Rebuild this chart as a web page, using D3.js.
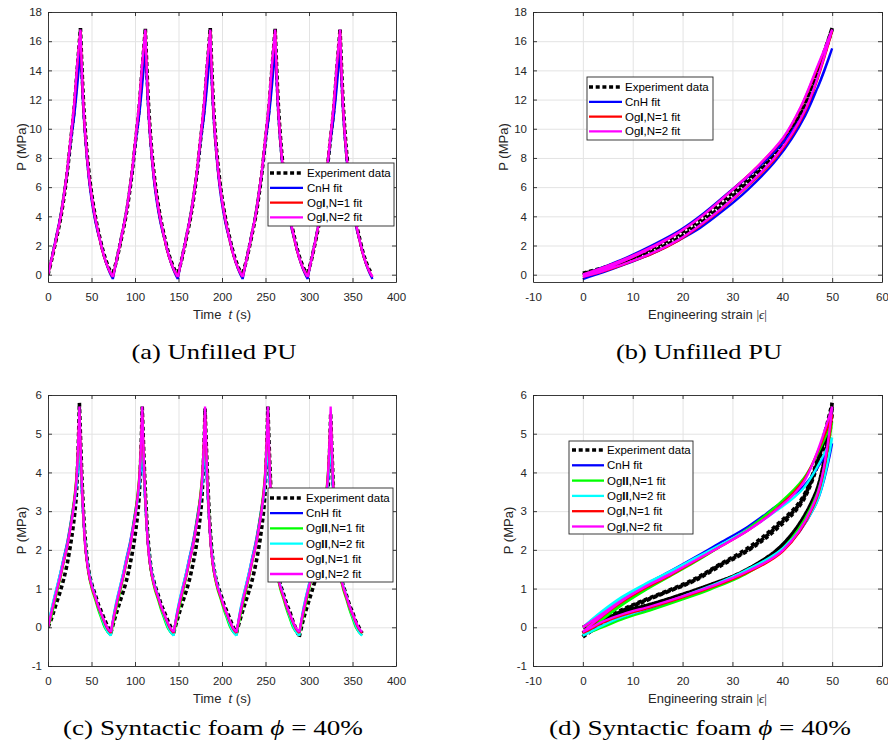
<!DOCTYPE html>
<html><head><meta charset="utf-8">
<script src="https://cdn.jsdelivr.net/npm/d3@7"></script>
<style>
body{margin:0;background:#fff;}
svg text{font-family:"Liberation Sans",Arial,Helvetica,sans-serif;}
</style></head><body>
<svg id="chart" width="888" height="753"></svg>
<script>
// ---------------- DATA ----------------
// Tick labels
const xTicksTime = [0,50,100,150,200,250,300,350,400];
const xTicksStrain = [-10,0,10,20,30,40,50,60];
const yTicksPU = [0,2,4,6,8,10,12,14,16,18];
const yTicksFoam = [-1,0,1,2,3,4,5,6];

// Series names
const namesPU = ["Experiment data","CnH fit","OgI,N=1 fit","OgI,N=2 fit"];
const namesFoam = ["Experiment data","CnH fit","OgII,N=1 fit","OgII,N=2 fit","OgI,N=1 fit","OgI,N=2 fit"];

// Unfilled PU : time (s) and engineering strain at each sample
const timePU = [0,3.7,7.5,11.2,14.9,18.7,22.4,26.1,29.8,33.6,37.3,41.0,44.8,48.5,52.2,56.0,59.7,63.4,67.1,70.9,
74.6,78.3,82.1,85.8,89.5,93.3,97.0,100.7,104.4,108.2,111.9,115.6,119.4,123.1,126.8,130.6,134.3,138.0,141.7,145.5,
149.2,152.9,156.7,160.4,164.1,167.9,171.6,175.3,179.0,182.8,186.5,190.2,194.0,197.7,201.4,205.2,208.9,212.6,216.3,220.1,
223.8,227.5,231.3,235.0,238.7,242.5,246.2,249.9,253.6,257.4,261.1,264.8,268.6,272.3,276.0,279.8,283.5,287.2,290.9,294.7,
298.4,302.1,305.9,309.6,313.3,317.1,320.8,324.5,328.2,332.0,335.7,339.4,343.2,346.9,350.6,354.4,358.1,361.8,365.5,369.3,373.0];
const strainPU = [0,7.6,14.1,19.7,24.2,29.3,34.7,40.2,43.7,47.2,50,44.6,38.9,33.0,28.0,23.5,19.2,14.0,8.8,4.0,
0,7.6,14.1,19.7,24.2,29.3,34.7,40.2,43.7,47.2,50,44.6,38.9,33.0,28.0,23.5,19.2,14.0,8.8,4.0,
0,7.6,14.1,19.7,24.2,29.3,34.7,40.2,43.7,47.2,50,44.6,38.9,33.0,28.0,23.5,19.2,14.0,8.8,4.0,
0,7.6,14.1,19.7,24.2,29.3,34.7,40.2,43.7,47.2,50,44.6,38.9,33.0,28.0,23.5,19.2,14.0,8.8,4.0,
0,7.6,14.1,19.7,24.2,29.3,34.7,40.2,43.7,47.2,50,44.6,38.9,33.0,28.0,23.5,19.2,14.0,8.8,4.0,0];
// Unfilled PU : P (MPa)
const expPU = [0,0.9,1.9,2.9,4.0,5.45,7.15,9.2,11.2,14.1,16.9,11.6,8.4,6.3,4.75,3.5,2.5,1.6,0.9,0.35,
0.1,0.85,1.85,2.9,4.0,5.45,7.15,9.2,11.2,14.1,16.85,11.6,8.4,6.3,4.75,3.5,2.5,1.6,0.9,0.35,
0.1,0.85,1.85,2.9,4.0,5.45,7.15,9.2,11.2,14.1,16.9,11.6,8.4,6.3,4.75,3.5,2.5,1.6,0.9,0.35,
0.1,0.85,1.85,2.9,4.0,5.45,7.15,9.2,11.2,14.1,16.85,11.6,8.4,6.3,4.75,3.5,2.5,1.6,0.9,0.35,
0.1,0.85,1.85,2.9,4.0,5.45,7.15,9.2,11.2,14.1,16.8,11.6,8.4,6.3,4.75,3.5,2.5,1.6,0.9,0.35,0.1];
const cnhPU = [0,1.0,2.05,3.1,4.2,5.65,7.25,9.1,10.7,12.9,15.5,10.9,7.9,5.8,4.35,3.2,2.35,1.45,0.75,0.15,
-0.3,0.85,1.95,3.05,4.15,5.6,7.2,9.1,10.7,12.9,15.5,10.9,7.9,5.8,4.35,3.2,2.35,1.45,0.75,0.15,
-0.3,0.85,1.95,3.05,4.15,5.6,7.2,9.1,10.7,12.9,15.5,10.9,7.9,5.8,4.35,3.2,2.35,1.45,0.75,0.15,
-0.3,0.85,1.95,3.05,4.15,5.6,7.2,9.1,10.7,12.9,15.5,10.9,7.9,5.8,4.35,3.2,2.35,1.45,0.75,0.15,
-0.3,0.85,1.95,3.05,4.15,5.6,7.2,9.1,10.7,12.9,15.5,10.9,7.9,5.8,4.35,3.2,2.35,1.45,0.75,0.15,-0.3];
const og1n1PU = [0,0.95,1.95,3.0,4.1,5.6,7.3,9.35,11.45,14.3,16.7,11.2,8.1,6.05,4.55,3.35,2.35,1.45,0.78,0.22,
-0.15,0.85,1.9,3.0,4.1,5.6,7.3,9.35,11.45,14.3,16.7,11.2,8.1,6.05,4.55,3.35,2.35,1.45,0.78,0.22,
-0.15,0.85,1.9,3.0,4.1,5.6,7.3,9.35,11.45,14.3,16.7,11.2,8.1,6.05,4.55,3.35,2.35,1.45,0.78,0.22,
-0.15,0.85,1.9,3.0,4.1,5.6,7.3,9.35,11.45,14.3,16.7,11.2,8.1,6.05,4.55,3.35,2.35,1.45,0.78,0.22,
-0.15,0.85,1.9,3.0,4.1,5.6,7.3,9.35,11.45,14.3,16.7,11.2,8.1,6.05,4.55,3.35,2.35,1.45,0.78,0.22,-0.15];
const og1n2PU = [0,0.95,1.95,3.0,4.1,5.6,7.3,9.4,11.5,14.4,16.8,11.3,8.2,6.1,4.6,3.4,2.4,1.5,0.8,0.25,
-0.15,0.85,1.9,3.0,4.1,5.6,7.3,9.4,11.5,14.4,16.8,11.3,8.2,6.1,4.6,3.4,2.4,1.5,0.8,0.25,
-0.15,0.85,1.9,3.0,4.1,5.6,7.3,9.4,11.5,14.4,16.8,11.3,8.2,6.1,4.6,3.4,2.4,1.5,0.8,0.25,
-0.15,0.85,1.9,3.0,4.1,5.6,7.3,9.4,11.5,14.4,16.8,11.3,8.2,6.1,4.6,3.4,2.4,1.5,0.8,0.25,
-0.15,0.85,1.9,3.0,4.1,5.6,7.3,9.4,11.5,14.4,16.8,11.3,8.2,6.1,4.6,3.4,2.4,1.5,0.8,0.25,-0.15];

// Syntactic foam phi = 40% : time (s) and strain
const timeFoam = [0,3.6,7.2,10.8,14.4,18.1,21.7,25.3,28.9,32.5,36.1,39.7,43.3,46.9,50.5,54.2,57.8,61.4,65.0,68.6,
72.2,75.8,79.4,83.0,86.6,90.3,93.9,97.5,101.1,104.7,108.3,111.9,115.5,119.1,122.7,126.4,130.0,133.6,137.2,140.8,
144.4,148.0,151.6,155.2,158.8,162.5,166.1,169.7,173.3,176.9,180.5,184.1,187.7,191.3,194.9,198.6,202.2,205.8,209.4,213.0,
216.6,220.2,223.8,227.4,231.0,234.7,238.3,241.9,245.5,249.1,252.7,256.3,259.9,263.5,267.1,270.8,274.4,278.0,281.6,285.2,
288.8,292.4,296.0,299.6,303.2,306.9,310.5,314.1,317.7,321.3,324.9,328.5,332.1,335.7,339.3,343.0,346.6,350.2,353.8,357.4,361.0];
const strainFoam = [0,3.9,7.8,12.2,17.1,22.4,27.1,33.1,38.5,44.3,50,46.8,40.2,32.3,25.6,20,13.8,8.2,4.0,1.5,
0,3.9,7.8,12.2,17.1,22.4,27.1,33.1,38.5,44.3,50,46.8,40.2,32.3,25.6,20,13.8,8.2,4.0,1.5,
0,3.9,7.8,12.2,17.1,22.4,27.1,33.1,38.5,44.3,50,46.8,40.2,32.3,25.6,20,13.8,8.2,4.0,1.5,
0,3.9,7.8,12.2,17.1,22.4,27.1,33.1,38.5,44.3,50,46.8,40.2,32.3,25.6,20,13.8,8.2,4.0,1.5,
0,3.9,7.8,12.2,17.1,22.4,27.1,33.1,38.5,44.3,50,46.8,40.2,32.3,25.6,20,13.8,8.2,4.0,1.5,0];
// Syntactic foam : P (MPa)
const expFoam = [0,0.2,0.45,0.7,0.95,1.25,1.6,2.05,2.6,3.4,5.8,3.5,2.15,1.45,1.1,0.85,0.6,0.4,0.2,0.02,
-0.15,0.15,0.42,0.68,0.93,1.22,1.58,2.0,2.55,3.35,5.7,3.5,2.15,1.45,1.1,0.85,0.6,0.4,0.2,0.02,
-0.15,0.15,0.42,0.68,0.93,1.22,1.58,2.0,2.55,3.35,5.65,3.5,2.15,1.45,1.1,0.85,0.6,0.4,0.2,0.0,
-0.15,0.15,0.42,0.68,0.93,1.22,1.58,2.0,2.55,3.35,5.7,3.5,2.15,1.45,1.1,0.85,0.6,0.4,0.15,-0.05,
-0.25,0.1,0.4,0.66,0.92,1.2,1.55,1.98,2.5,3.3,5.5,3.4,2.1,1.42,1.08,0.83,0.58,0.38,0.15,0.0,-0.15];
const cnhFoam = [0,0.4,0.75,1.08,1.42,1.8,2.15,2.6,3.1,3.65,4.75,3.2,2.0,1.4,1.05,0.78,0.5,0.27,0.04,-0.12,
-0.2,0.32,0.72,1.06,1.41,1.8,2.15,2.6,3.1,3.65,4.75,3.2,2.0,1.4,1.05,0.78,0.5,0.27,0.04,-0.12,
-0.2,0.32,0.72,1.06,1.41,1.8,2.15,2.6,3.1,3.65,4.75,3.2,2.0,1.4,1.05,0.78,0.5,0.27,0.04,-0.12,
-0.2,0.32,0.72,1.06,1.41,1.8,2.15,2.6,3.1,3.65,4.75,3.2,2.0,1.4,1.05,0.78,0.5,0.27,0.04,-0.12,
-0.2,0.32,0.72,1.06,1.41,1.8,2.15,2.6,3.1,3.65,4.75,3.2,2.0,1.4,1.05,0.78,0.5,0.27,0.04,-0.12,-0.2];
const og2n1Foam = [0,0.25,0.6,0.95,1.3,1.68,2.05,2.55,3.1,3.85,5.3,3.4,2.05,1.35,0.98,0.72,0.45,0.22,0.0,-0.12,
-0.2,0.2,0.57,0.93,1.29,1.68,2.05,2.55,3.1,3.85,5.3,3.4,2.05,1.35,0.98,0.72,0.45,0.22,0.0,-0.12,
-0.2,0.2,0.57,0.93,1.29,1.68,2.05,2.55,3.1,3.85,5.3,3.4,2.05,1.35,0.98,0.72,0.45,0.22,0.0,-0.12,
-0.2,0.2,0.57,0.93,1.29,1.68,2.05,2.55,3.1,3.85,5.3,3.4,2.05,1.35,0.98,0.72,0.45,0.22,0.0,-0.12,
-0.2,0.2,0.57,0.93,1.29,1.68,2.05,2.55,3.1,3.85,5.3,3.4,2.05,1.35,0.98,0.72,0.45,0.22,0.0,-0.12,-0.2];
const og2n2Foam = [0,0.42,0.78,1.1,1.42,1.78,2.1,2.52,2.98,3.6,4.9,3.2,2.05,1.45,1.07,0.8,0.52,0.28,0.05,-0.12,
-0.22,0.35,0.75,1.08,1.41,1.78,2.1,2.52,2.98,3.6,4.9,3.2,2.05,1.45,1.07,0.8,0.52,0.28,0.05,-0.12,
-0.22,0.35,0.75,1.08,1.41,1.78,2.1,2.52,2.98,3.6,4.9,3.2,2.05,1.45,1.07,0.8,0.52,0.28,0.05,-0.12,
-0.22,0.35,0.75,1.08,1.41,1.78,2.1,2.52,2.98,3.6,4.9,3.2,2.05,1.45,1.07,0.8,0.52,0.28,0.05,-0.12,
-0.22,0.35,0.75,1.08,1.41,1.78,2.1,2.52,2.98,3.6,4.9,3.2,2.05,1.45,1.07,0.8,0.52,0.28,0.05,-0.12,-0.22];
const og1n1Foam = [0,0.33,0.67,1.0,1.32,1.7,2.05,2.5,3.02,3.8,5.5,3.3,1.97,1.37,1.02,0.77,0.52,0.32,0.12,-0.05,
-0.15,0.28,0.65,0.99,1.31,1.7,2.05,2.5,3.02,3.8,5.5,3.3,1.97,1.37,1.02,0.77,0.52,0.32,0.12,-0.05,
-0.15,0.28,0.65,0.99,1.31,1.7,2.05,2.5,3.02,3.8,5.5,3.3,1.97,1.37,1.02,0.77,0.52,0.32,0.12,-0.05,
-0.15,0.28,0.65,0.99,1.31,1.7,2.05,2.5,3.02,3.8,5.5,3.3,1.97,1.37,1.02,0.77,0.52,0.32,0.12,-0.05,
-0.15,0.28,0.65,0.99,1.31,1.7,2.05,2.5,3.02,3.8,5.5,3.3,1.97,1.37,1.02,0.77,0.52,0.32,0.12,-0.05,-0.15];
const og1n2Foam = [0,0.35,0.7,1.03,1.35,1.72,2.05,2.5,3.0,3.75,5.7,3.35,2.0,1.4,1.05,0.8,0.55,0.35,0.15,-0.02,
-0.12,0.3,0.68,1.02,1.34,1.72,2.05,2.5,3.0,3.75,5.7,3.35,2.0,1.4,1.05,0.8,0.55,0.35,0.15,-0.02,
-0.12,0.3,0.68,1.02,1.34,1.72,2.05,2.5,3.0,3.75,5.7,3.35,2.0,1.4,1.05,0.8,0.55,0.35,0.15,-0.02,
-0.12,0.3,0.68,1.02,1.34,1.72,2.05,2.5,3.0,3.75,5.7,3.35,2.0,1.4,1.05,0.8,0.55,0.35,0.15,-0.02,
-0.12,0.3,0.68,1.02,1.34,1.72,2.05,2.5,3.0,3.75,5.7,3.35,2.0,1.4,1.05,0.8,0.55,0.35,0.15,-0.02,-0.12];

// ---------------- STYLE ----------------
const AX = "#262626";
const GRID = "#e3e3e3";
const styleMap = {
  "Experiment data": {c:"#000000", w:3.6, dash:"4,2.7"},
  "CnH fit": {c:"#0000ff", w:2.3},
  "OgII,N=1 fit": {c:"#00ff00", w:2.3},
  "OgII,N=2 fit": {c:"#00ffff", w:2.3},
  "OgI,N=1 fit": {c:"#ff0000", w:2.3},
  "OgI,N=2 fit": {c:"#ff00ff", w:2.3}
};
const fmt = d => String(d);

const svg = d3.select("#chart");

// turning points of the loading history (strain extrema) split each series into half-cycles
function turningIdx(strain){
  const idx = [0];
  for(let i=1;i<strain.length-1;i++){
    if((strain[i]-strain[i-1])*(strain[i+1]-strain[i])<0) idx.push(i);
  }
  idx.push(strain.length-1);
  return idx;
}

function panel(cfg, idx){
  const x = d3.scaleLinear().domain(cfg.xd).range([cfg.x0, cfg.x1]);
  const y = d3.scaleLinear().domain(cfg.yd).range([cfg.y1, cfg.y0]);
  const g = svg.append("g");
  const W = cfg.x1 - cfg.x0, H = cfg.y1 - cfg.y0;

  // grid
  g.append("g").attr("transform",`translate(0,${cfg.y1})`)
    .call(d3.axisBottom(x).tickValues(cfg.xt).tickSize(-H).tickFormat(""))
    .call(s=>{s.select(".domain").remove(); s.selectAll("line").attr("stroke",GRID).attr("stroke-width",1);});
  g.append("g").attr("transform",`translate(${cfg.x0},0)`)
    .call(d3.axisLeft(y).tickValues(cfg.yt).tickSize(-W).tickFormat(""))
    .call(s=>{s.select(".domain").remove(); s.selectAll("line").attr("stroke",GRID).attr("stroke-width",1);});

  // clip
  const cid = "clip"+idx;
  svg.append("clipPath").attr("id",cid).append("rect")
    .attr("x",cfg.x0).attr("y",cfg.y0).attr("width",W).attr("height",H);

  const line = d3.line().x(d=>x(d[0])).y(d=>y(d[1])).curve(d3.curveCatmullRom.alpha(0.5));
  const tp = turningIdx(cfg.strain);
  const lg = g.append("g").attr("clip-path",`url(#${cid})`);
  cfg.series.forEach(s=>{
    const st = styleMap[s.name];
    const pts = s.vals.map((v,i)=>[cfg.xs[i], v]);
    let dstr = "";
    for(let k=0;k<tp.length-1;k++){
      dstr += line(pts.slice(tp[k], tp[k+1]+1));
    }
    lg.append("path").attr("d", dstr).attr("fill","none")
      .attr("stroke", st.c).attr("stroke-width", st.w)
      .attr("stroke-dasharray", st.dash || null)
      .attr("stroke-linejoin","round");
  });

  // axes with inward ticks
  const tk = 4;
  const styleAxis = s=>{
    s.select(".domain").attr("stroke",AX).attr("stroke-width",0.9);
    s.selectAll(".tick line").attr("stroke",AX).attr("stroke-width",0.9);
    s.selectAll("text").attr("fill",AX).style("font-size","11.5px")
     .style("font-family",'"Liberation Sans",Arial,sans-serif');
  };
  g.append("g").attr("transform",`translate(0,${cfg.y1})`)
    .call(d3.axisBottom(x).tickValues(cfg.xt).tickFormat(fmt).tickSizeInner(-tk).tickSizeOuter(0).tickPadding(11.3)).call(styleAxis);
  g.append("g").attr("transform",`translate(0,${cfg.y0})`)
    .call(d3.axisTop(x).tickValues(cfg.xt).tickSizeInner(-tk).tickSizeOuter(0).tickFormat("")).call(styleAxis);
  g.append("g").attr("transform",`translate(${cfg.x0},0)`)
    .call(d3.axisLeft(y).tickValues(cfg.yt).tickFormat(fmt).tickSizeInner(-tk).tickSizeOuter(0).tickPadding(6)).call(styleAxis);
  g.append("g").attr("transform",`translate(${cfg.x1},0)`)
    .call(d3.axisRight(y).tickValues(cfg.yt).tickSizeInner(-tk).tickSizeOuter(0).tickFormat("")).call(styleAxis);

  // y label
  g.append("text").attr("transform",`translate(${cfg.ylabX},${(cfg.y0+cfg.y1)/2}) rotate(-90)`)
    .attr("text-anchor","middle").attr("dominant-baseline","central")
    .attr("fill",AX).style("font-size","13px").text("P (MPa)");

  // x label
  const xl = g.append("text").attr("x",(cfg.x0+cfg.x1)/2).attr("y",cfg.y1+37)
    .attr("text-anchor","middle").attr("fill",AX).style("font-size","13px").style("white-space","pre");
  if(cfg.xlabel==="time"){
    xl.append("tspan").text("Time  ");
    xl.append("tspan").style("font-style","italic").text("t");
    xl.append("tspan").text(" (s)");
  } else {
    xl.append("tspan").text("Engineering strain ");
    xl.append("tspan").style("font-family",'"Liberation Serif",serif').text("|");
    xl.append("tspan").style("font-family",'"Liberation Serif",serif').style("font-style","italic").text("\u03F5");
    xl.append("tspan").style("font-family",'"Liberation Serif",serif').text("|");
  }

  // legend
  const L = cfg.legend;
  const lgd = g.append("g");
  lgd.append("rect").attr("x",L.x).attr("y",L.y).attr("width",L.w).attr("height",L.h)
    .attr("fill","#fff").attr("stroke",AX).attr("stroke-width",0.9);
  cfg.series.forEach((s,i)=>{
    const st = styleMap[s.name];
    const ry = L.row0 + i*L.dy;
    lgd.append("line").attr("x1",L.lx0).attr("x2",L.lx1).attr("y1",ry).attr("y2",ry)
      .attr("stroke",st.c).attr("stroke-width",st.w).attr("stroke-dasharray",st.dash||null);
    const t = lgd.append("text").attr("x",L.tx).attr("y",ry).attr("dominant-baseline","central")
      .attr("fill","#000").style("font-size","11.5px");
    const m = s.name.match(/^Og(I+)(,.*)$/);
    if(m){
      t.append("tspan").text("Og");
      t.append("tspan").style("font-weight","bold").text(m[1]);
      t.append("tspan").text(m[2]);
    } else t.text(s.name);
  });

  // caption
  const cp = svg.append("text").attr("x",cfg.cap.x).attr("y",cfg.cap.y).attr("text-anchor","middle")
    .style("font-family",'"Liberation Serif","DejaVu Serif",serif').style("font-size","22px")
    .attr("fill","#000").attr("textLength",cfg.cap.len).attr("lengthAdjust","spacingAndGlyphs")
    .style("white-space","pre");
  if(cfg.cap.phi){
    cp.append("tspan").text(cfg.cap.text+" ");
    cp.append("tspan").style("font-style","italic").text("\u03D5");
    cp.append("tspan").text(" = 40%");
  } else cp.text(cfg.cap.text);
}

const seriesPU = [expPU, cnhPU, og1n1PU, og1n2PU].map((v,i)=>({name:namesPU[i], vals:v}));
const seriesFoam = [expFoam, cnhFoam, og2n1Foam, og2n2Foam, og1n1Foam, og1n2Foam].map((v,i)=>({name:namesFoam[i], vals:v}));

const panels = [
  {x0:48,x1:396,y0:12,y1:282, xd:[0,400], yd:[-0.5,18], xt:xTicksTime, yt:yTicksPU, xs:timePU, strain:strainPU,
   series:seriesPU, ylabX:21, xlabel:"time",
   legend:{x:268,y:163,w:126,h:63,row0:173,dy:14.8,lx0:270,lx1:303,tx:307},
   cap:{x:214,y:359,text:"(a) Unfilled PU",len:165}},
  {x0:533,x1:882,y0:12,y1:282, xd:[-10,60], yd:[-0.5,18], xt:xTicksStrain, yt:yTicksPU, xs:strainPU, strain:strainPU,
   series:seriesPU, ylabX:503, xlabel:"strain",
   legend:{x:587,y:77,w:126,h:63,row0:87,dy:14.8,lx0:589,lx1:622,tx:625},
   cap:{x:699,y:359,text:"(b) Unfilled PU",len:166}},
  {x0:48,x1:396,y0:395,y1:666, xd:[0,400], yd:[-1,6], xt:xTicksTime, yt:yTicksFoam, xs:timeFoam, strain:strainFoam,
   series:seriesFoam, ylabX:21, xlabel:"time",
   legend:{x:268,y:488,w:125,h:94,row0:498,dy:15.2,lx0:270,lx1:303,tx:306},
   cap:{x:213,y:735,text:"(c) Syntactic foam",len:300,phi:true}},
  {x0:533,x1:882,y0:395,y1:666, xd:[-10,60], yd:[-1,6], xt:xTicksStrain, yt:yTicksFoam, xs:strainFoam, strain:strainFoam,
   series:seriesFoam, ylabX:508, xlabel:"strain",
   legend:{x:569,y:441,w:124,h:93,row0:450,dy:15.3,lx0:572,lx1:604,tx:607},
   cap:{x:700,y:735,text:"(d) Syntactic foam",len:302,phi:true}}
];
panels.forEach((p,i)=>panel(p,i));
</script>
</body></html>
